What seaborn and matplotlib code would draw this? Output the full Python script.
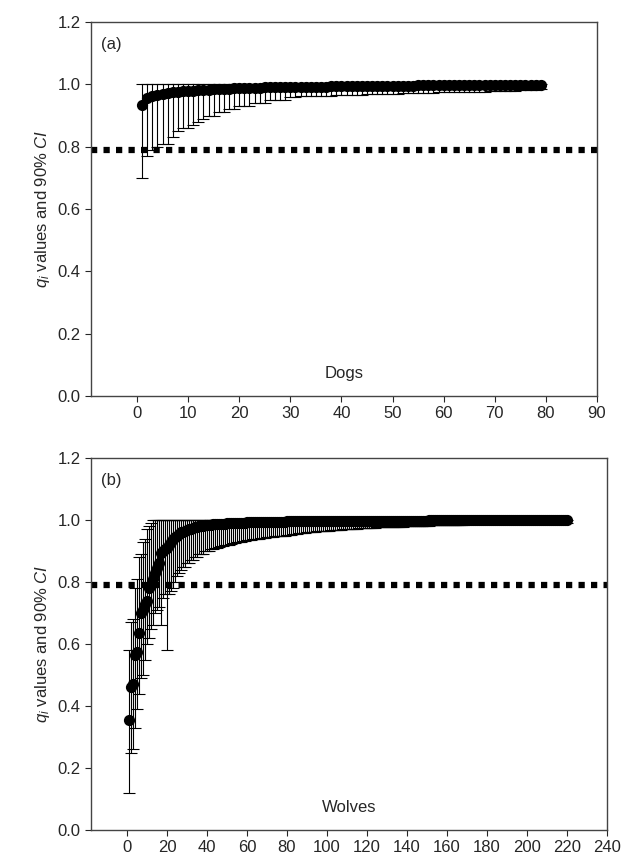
import matplotlib
matplotlib.use("Agg")
import matplotlib.pyplot as plt
import seaborn as sns
import numpy as np
import pandas as pd

dogs_q = [0.935,0.955,0.962,0.967,0.970,0.972,0.974,0.976,0.978,0.979,
          0.980,0.981,0.982,0.983,0.984,0.985,0.985,0.986,0.987,0.987,
          0.988,0.988,0.989,0.989,0.990,0.990,0.990,0.991,0.991,0.991,
          0.992,0.992,0.992,0.993,0.993,0.993,0.993,0.994,0.994,0.994,
          0.994,0.995,0.995,0.995,0.995,0.995,0.995,0.996,0.996,0.996,
          0.996,0.996,0.996,0.996,0.997,0.997,0.997,0.997,0.997,0.997,
          0.997,0.997,0.997,0.998,0.998,0.998,0.998,0.998,0.998,0.998,
          0.998,0.998,0.998,0.998,0.998,0.998,0.998,0.998,0.998]
dogs_lo = [0.70,0.77,0.79,0.80,0.81,0.81,0.83,0.85,0.86,0.86,
           0.87,0.88,0.89,0.90,0.90,0.91,0.91,0.92,0.92,0.93,
           0.93,0.93,0.94,0.94,0.94,0.95,0.95,0.95,0.95,0.96,
           0.960,0.961,0.962,0.962,0.963,0.963,0.964,0.964,0.965,0.965,
           0.966,0.966,0.967,0.967,0.968,0.968,0.969,0.969,0.970,0.970,
           0.970,0.971,0.971,0.972,0.972,0.972,0.973,0.973,0.974,0.974,
           0.975,0.975,0.975,0.976,0.976,0.977,0.977,0.977,0.978,0.978,
           0.979,0.979,0.980,0.980,0.981,0.981,0.982,0.983,0.984]
dogs_hi = [1.0]*79

wolves_q = [0.355,0.46,0.47,0.565,0.575,0.635,0.70,0.71,0.73,0.74,
            0.78,0.79,0.81,0.83,0.845,0.86,0.895,0.90,0.905,0.91,
            0.92,0.93,0.94,0.945,0.95,0.955,0.96,0.962,0.965,0.968,
            0.97,0.972,0.974,0.976,0.978,0.98,0.981,0.982,0.983,0.984,
            0.985,0.985,0.986,0.986,0.987,0.987,0.988,0.988,0.988,0.989,
            0.989,0.989,0.990,0.990,0.990,0.991,0.991,0.991,0.991,0.992,
            0.992,0.992,0.992,0.993,0.993,0.993,0.993,0.993,0.994,0.994,
            0.994,0.994,0.994,0.995,0.995,0.995,0.995,0.995,0.995,0.996,
            0.996,0.996,0.996,0.996,0.996,0.996,0.996,0.996,0.996,0.996,
            0.997,0.997,0.997,0.997,0.997,0.997,0.997,0.997,0.997,0.997,
            0.997,0.997,0.997,0.997,0.997,0.997,0.997,0.997,0.997,0.997,
            0.998,0.998,0.998,0.998,0.998,0.998,0.998,0.998,0.998,0.998,
            0.998,0.998,0.998,0.998,0.998,0.998,0.998,0.998,0.998,0.998,
            0.998,0.998,0.998,0.998,0.998,0.998,0.998,0.998,0.998,0.998,
            0.998,0.998,0.998,0.998,0.998,0.998,0.998,0.998,0.998,0.998,
            0.999,0.999,0.999,0.999,0.999,0.999,0.999,0.999,0.999,0.999,
            0.999,0.999,0.999,0.999,0.999,0.999,0.999,0.999,0.999,0.999,
            0.999,0.999,0.999,0.999,0.999,0.999,0.999,0.999,0.999,0.999,
            0.999,0.999,0.999,0.999,0.999,0.999,0.999,0.999,0.999,0.999,
            0.999,0.999,0.999,0.999,0.999,0.999,0.999,0.999,0.999,0.999,
            0.999,0.999,0.999,0.999,0.999,0.999,0.999,0.999,0.999,0.999,
            0.999,0.999,0.999,0.999,0.999,0.999,0.999,0.999,0.999,0.999]
wolves_lo = [0.12,0.25,0.26,0.33,0.39,0.44,0.49,0.50,0.55,0.60,
             0.62,0.65,0.66,0.70,0.71,0.72,0.66,0.75,0.76,0.58,
             0.76,0.77,0.78,0.80,0.82,0.83,0.84,0.85,0.85,0.86,
             0.86,0.87,0.87,0.88,0.88,0.89,0.89,0.89,0.90,0.90,
             0.900,0.905,0.905,0.910,0.910,0.912,0.915,0.915,0.918,0.920,
             0.920,0.922,0.925,0.925,0.928,0.930,0.930,0.932,0.933,0.935,
             0.935,0.936,0.938,0.938,0.940,0.940,0.941,0.942,0.943,0.944,
             0.945,0.945,0.946,0.947,0.948,0.948,0.949,0.950,0.950,0.951,
             0.952,0.953,0.954,0.955,0.956,0.957,0.958,0.958,0.959,0.960,
             0.960,0.961,0.962,0.962,0.963,0.964,0.964,0.965,0.965,0.966,
             0.966,0.967,0.967,0.968,0.968,0.969,0.969,0.970,0.970,0.970,
             0.971,0.971,0.972,0.972,0.972,0.973,0.973,0.973,0.974,0.974,
             0.974,0.975,0.975,0.975,0.976,0.976,0.976,0.977,0.977,0.977,
             0.978,0.978,0.978,0.978,0.979,0.979,0.979,0.979,0.980,0.980,
             0.980,0.980,0.981,0.981,0.981,0.981,0.982,0.982,0.982,0.982,
             0.982,0.983,0.983,0.983,0.983,0.983,0.984,0.984,0.984,0.984,
             0.984,0.984,0.985,0.985,0.985,0.985,0.985,0.985,0.986,0.986,
             0.986,0.986,0.986,0.986,0.986,0.987,0.987,0.987,0.987,0.987,
             0.987,0.987,0.988,0.988,0.988,0.988,0.988,0.988,0.988,0.988,
             0.989,0.989,0.989,0.989,0.989,0.989,0.989,0.989,0.989,0.990,
             0.990,0.990,0.990,0.990,0.990,0.990,0.990,0.990,0.990,0.990,
             0.990,0.990,0.990,0.990,0.990,0.990,0.990,0.990,0.990,0.990]
wolves_hi = [0.58,0.67,0.68,0.78,0.81,0.88,0.89,0.93,0.94,0.97,0.98,0.99] + [1.0]*208
threshold = 0.79

sns.set_style("ticks")
plt.rcParams['font.family'] = ['Liberation Sans', 'DejaVu Sans']
plt.rcParams['mathtext.fontset'] = 'custom'
plt.rcParams['mathtext.rm'] = 'Liberation Sans'
plt.rcParams['mathtext.it'] = 'Liberation Sans:italic'

fig = plt.figure(figsize=(6.22, 8.58), dpi=100)
W, H = 622, 858
axa = fig.add_axes([91/W, 1-396/H, 506/W, 374/H])
axb = fig.add_axes([91/W, 1-830/H, 516/W, 372/H])

def panel(ax, q, lo, hi, label, name, xlim, xticks):
    x = np.arange(1, len(q)+1)
    q = np.array(q); lo = np.array(lo); hi = np.array(hi)
    ax.errorbar(x, q, yerr=[q-lo, hi-q], fmt='none', ecolor='black',
                elinewidth=0.8, capsize=4, capthick=0.8, zorder=2)
    sns.scatterplot(x=x, y=q, ax=ax, color='black', s=65, edgecolor='black',
                    linewidth=0, zorder=3, legend=False)
    ax.axhline(threshold, color='black', linestyle=(0, (1, 1)), linewidth=4.5, zorder=1)
    ax.set_xlim(*xlim)
    ax.set_ylim(0, 1.2)
    ax.set_xticks(xticks)
    ax.set_yticks(np.arange(0, 1.21, 0.2))
    ax.set_yticklabels([f"{v:.1f}" for v in np.arange(0, 1.21, 0.2)])
    ax.tick_params(direction='out', labelsize=12, length=4)
    for s in ax.spines.values():
        s.set_color('#444444'); s.set_linewidth(1)
    ax.text(0.02, 0.96, label, transform=ax.transAxes, fontsize=12, va='top')
    ax.text(0.5, 0.04, name, transform=ax.transAxes, fontsize=12, ha='center', va='bottom')
    ax.set_ylabel('$q_i$ values and 90% $CI$', fontsize=12)

panel(axa, dogs_q, dogs_lo, dogs_hi, '(a)', 'Dogs', (-9, 90), range(0, 91, 10))
panel(axb, wolves_q, wolves_lo, wolves_hi, '(b)', 'Wolves', (-18, 240), range(0, 241, 20))

fig.savefig('out.png', dpi=100)
